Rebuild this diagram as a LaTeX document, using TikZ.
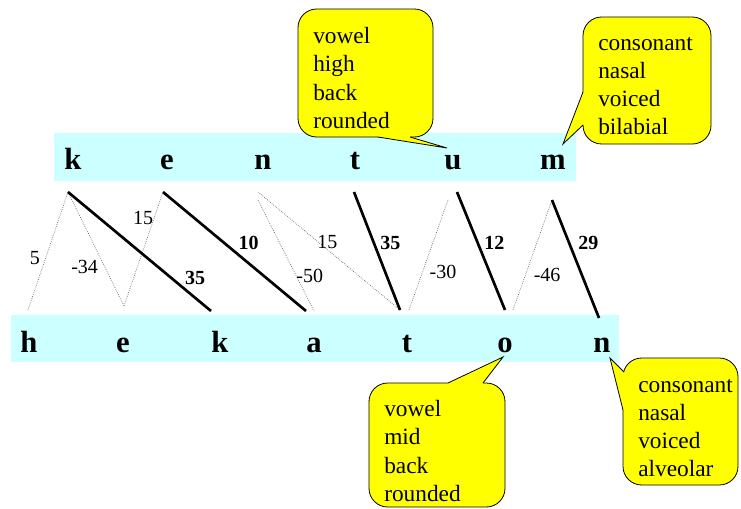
\documentclass[tikz,border=0pt]{standalone}
\usepackage{fontspec}
\setmainfont{Liberation Serif}
\usetikzlibrary{positioning}
\definecolor{bandcyan}{HTML}{CCFFFF}
\definecolor{bubbleyellow}{HTML}{FFFF00}
\tikzset{
  seg/.style={
    font=\fontsize{23}{27}\selectfont\bfseries,
    inner sep=0pt,
    anchor=base
  },
  band/.style={
    fill=bandcyan
  },
  bubble/.style={
    rounded corners=14pt,
    draw=black,
    line width=0.6pt,
    fill=bubbleyellow
  },
  bubbletext/.style={
    align=left,
    anchor=west,
    inner sep=0pt,
    font=\fontsize{17.5}{21.2}\selectfont
  },
  pointer/.style={
    fill=bubbleyellow
  },
  pointerline/.style={
    draw=black,
    line width=0.6pt,
    line join=miter
  },
  match/.style={
    line width=2pt,
    draw=black
  },
  weak/.style={
    densely dotted,
    line width=0.5pt,
    draw=black!65
  },
  score/.style={
    font=\fontsize{15}{17}\selectfont
  },
  strong/.style={
    font=\fontsize{15}{17}\selectfont\bfseries
  }
}

\begin{document}
\begin{tikzpicture}[x=0.75pt,y=-0.75pt]
  \useasboundingbox (0,0) rectangle (741,508);

  % segment bands
  \fill[band] (54,133) rectangle (576,181);
  \fill[band] (11,315) rectangle (619,362);

  % kentum
  \node[seg] (tk) at (73,169) {k};
  \node[seg] (te) at (167,169) {e};
  \node[seg] (tn) at (263,169) {n};
  \node[seg] (tt) at (355,169) {t};
  \node[seg] (tu) at (453,169) {u};
  \node[seg] (tm) at (553,169) {m};

  % hekaton
  \node[seg] (bh) at (29,352) {h};
  \node[seg] (be) at (123,352) {e};
  \node[seg] (bk) at (220,352) {k};
  \node[seg] (ba) at (314,352) {a};
  \node[seg] (bt) at (407,352) {t};
  \node[seg] (bo) at (505,352) {o};
  \node[seg] (bn) at (602,352) {n};

  % line ends under the top row
  \coordinate (ck) at (68,192);
  \coordinate (ce) at (163,192);
  \coordinate (cn1) at (258,192);
  \coordinate (cn2) at (258,200);
  \coordinate (ct) at (354,192);
  \coordinate (cu1) at (448,200);
  \coordinate (cu2) at (457,192);
  \coordinate (cm) at (552,200);

  % line ends over the bottom row
  \coordinate (dh) at (28,310);
  \coordinate (de) at (124,306);
  \coordinate (dk) at (211,311);
  \coordinate (da1) at (306,311);
  \coordinate (da2) at (314,311);
  \coordinate (dt1) at (400,310);
  \coordinate (dt2) at (409,310);
  \coordinate (do1) at (505,310);
  \coordinate (do2) at (513,310);
  \coordinate (dn) at (599,318);

  % weak alignments
  \draw[weak] (ck) -- node[score, pos=.56, left, inner sep=4pt] (s1) {5} (dh);
  \draw[weak] (ck) -- node[score, pos=.66, left, inner sep=5pt] (s2) {-34} (de);
  \draw[weak] (de) -- node[score, pos=.77, left, inner sep=0.5pt] (s3) {15} (ce);
  \draw[weak] (cn1) -- node[score, pos=.46, xshift=3pt, yshift=3pt] (s4) {15} (dt1);
  \draw[weak] (cn2) -- node[score, pos=.68, right, inner sep=0pt] (s5) {-50} (da2);
  \draw[weak] (cu1) -- node[score, pos=.65, right, inner sep=5pt] (s6) {-30} (dt2);
  \draw[weak] (cm) -- node[score, pos=.68, right, inner sep=6pt] (s7) {-46} (do2);

  % strong alignments
  \draw[match] (ck) -- node[strong, pos=.8, above right, inner sep=1pt] (m1) {35} (dk);
  \draw[match] (ce) -- node[strong, pos=.51, above right, inner sep=1pt] (m2) {10} (da1);
  \draw[match] (ct) -- node[strong, pos=.43, right, inner sep=4pt] (m3) {35} (dt1);
  \draw[match] (cu2) -- node[strong, pos=.43, right, inner sep=4pt] (m4) {12} (do1);
  \draw[match] (cm) -- node[strong, pos=.36, right, inner sep=6pt] (m5) {29} (dn);

  % feature bubbles
  \draw[bubble] (298,9) rectangle (433,137);
  \fill[pointer] (378,134) -- (378,137) -- (447,148) -- (410,137) -- (410,134) -- cycle;
  \draw[pointerline] (378,137) -- (447,148) -- (410,137);
  \node[bubbletext] (fu) at (313,78) {vowel\\high\\back\\rounded};

  \draw[bubble] (583,17) rectangle (711,144);
  \fill[pointer] (586,92) -- (583,92) -- (563,144) -- (583,125) -- (586,125) -- cycle;
  \draw[pointerline] (583,92) -- (563,144) -- (583,125);
  \node[bubbletext] (fm) at (598,86) {consonant\\nasal\\voiced\\bilabial};

  \draw[bubble] (369,383) rectangle (505,507);
  \fill[pointer] (448,386) -- (448,383) -- (503,357) -- (483,383) -- (483,386) -- cycle;
  \draw[pointerline] (448,383) -- (503,357) -- (483,383);
  \node[bubbletext] (fo) at (384,451) {vowel\\mid\\back\\rounded};

  \draw[bubble] (623,358) rectangle (738,485);
  \fill[pointer] (627,372) -- (624,372) -- (610,358) -- (623,410) -- (627,410) -- cycle;
  \draw[pointerline] (624,372) -- (610,358) -- (623,410);
  \node[bubbletext] (fn) at (638,428) {consonant\\nasal\\voiced\\alveolar};
\end{tikzpicture}
\end{document}
